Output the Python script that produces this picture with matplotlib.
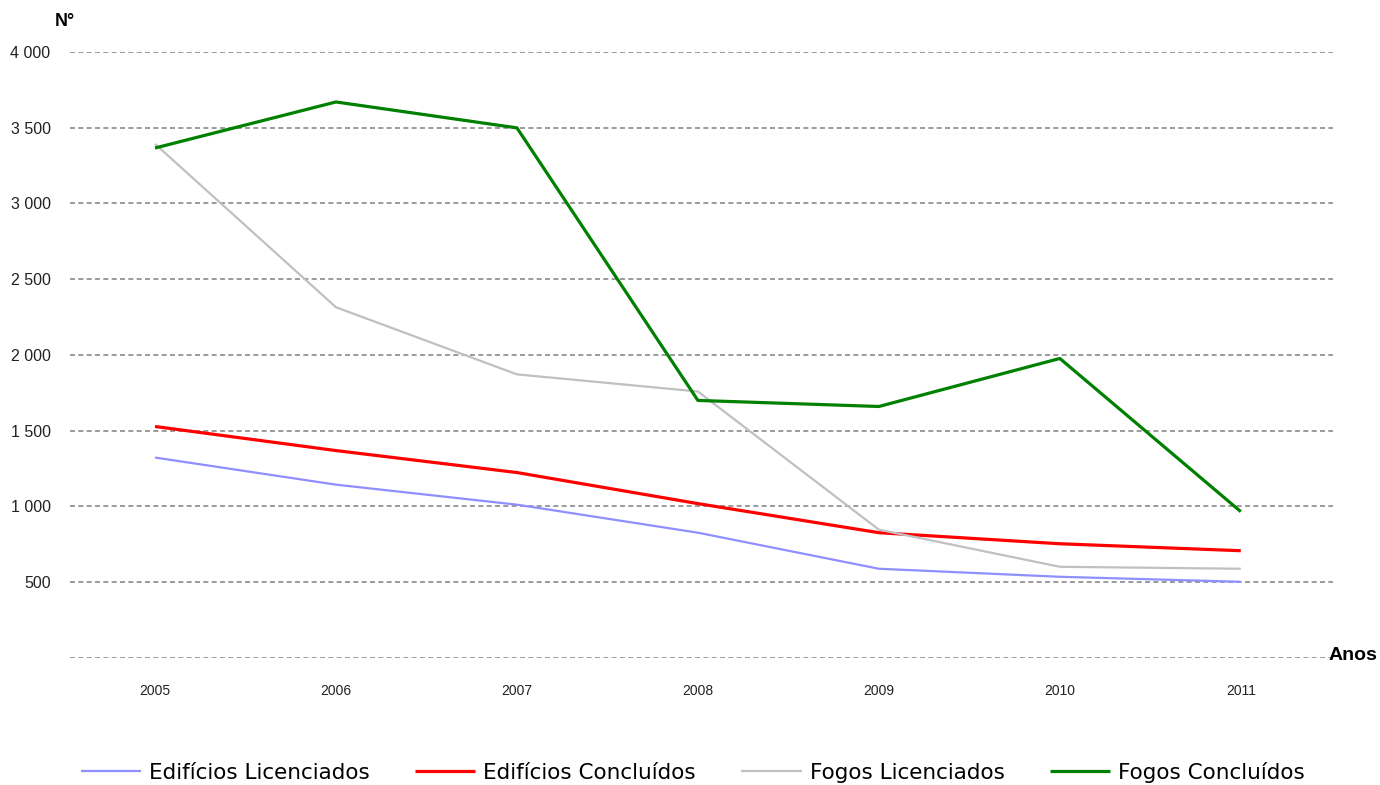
import matplotlib
matplotlib.use("Agg")
import matplotlib.pyplot as plt
from matplotlib.ticker import FuncFormatter

years = ["2005", "2006", "2007", "2008", "2009", "2010", "2011"]
edificios_licenciados = [1323, 1144, 1012, 827, 589, 536, 503]
edificios_concluidos = [1528, 1369, 1224, 1019, 827, 754, 708]
fogos_licenciados = [3393, 2315, 1872, 1759, 847, 602, 589]
fogos_concluidos = [3366, 3670, 3499, 1700, 1660, 1977, 966]
series_names = ["Edifícios Licenciados", "Edifícios Concluídos",
                "Fogos Licenciados", "Fogos Concluídos"]
y_ticks = [0, 500, 1000, 1500, 2000, 2500, 3000, 3500, 4000]

plt.rcParams['font.family'] = ['Liberation Sans', 'DejaVu Sans']

fig = plt.figure(figsize=(13.8, 7.85), dpi=100)
ax = fig.add_axes([0.0507, 0.1618, 0.9153, 0.772])

x = list(range(len(years)))
series = [edificios_licenciados, edificios_concluidos, fogos_licenciados, fogos_concluidos]
colors = ["#8f8fff", "#ff0000", "#c0c0c0", "#008000"]
widths = [1.6, 2.3, 1.6, 2.3]
for vals, name, c, w in zip(series, series_names, colors, widths):
    ax.plot(x, vals, color=c, lw=w, label=name, zorder=3, solid_capstyle='butt')

ax.set_xlim(-0.47, 6.51)
ax.set_ylim(0, 4000)
ax.set_yticks(y_ticks)
ax.yaxis.set_major_formatter(FuncFormatter(
    lambda v, p: "" if v == 0 else f"{int(v):,}".replace(",", " ")))
ax.set_xticks(x)
ax.set_xticklabels(years)
ax.tick_params(axis='both', length=0)
ax.tick_params(axis='y', labelsize=11.5, pad=14, colors='#222222')
ax.tick_params(axis='x', labelsize=10, pad=19, colors='#222222')
for s in ax.spines.values():
    s.set_visible(False)
ax.grid(axis='y', color='#8a8a8a', lw=1.2, linestyle=(0, (3, 2)), zorder=1)
ax.set_axisbelow(True)

fig.text(0.040, 0.972, "N°", fontsize=13, fontweight='bold', ha='left', va='center')
fig.text(0.998, 0.165, "Anos", fontsize=14, fontweight='bold', ha='right', va='center')

fig.legend(loc='center', bbox_to_anchor=(0.502, 0.016), ncol=4, frameon=False,
           handlelength=2.8, handletextpad=0.38, columnspacing=2.1,
           prop={'family': ['DejaVu Sans'], 'size': 15.5})

fig.savefig("out.png", dpi=100, facecolor='white')
